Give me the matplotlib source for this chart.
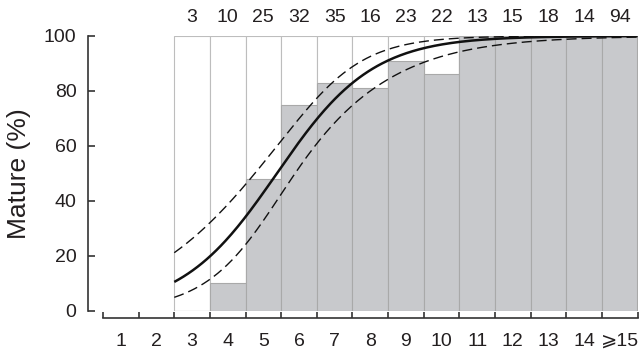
import numpy as np
import matplotlib
matplotlib.use("Agg")
import matplotlib.pyplot as plt

plt.rcParams['font.family'] = ['Liberation Sans', 'DejaVu Sans']

# age classes and observed data
ages = list(range(1, 16))
age_labels = ["1", "2", "3", "4", "5", "6", "7", "8", "9", "10", "11", "12", "13", "14", "\u2a7e15"]
sampled_ages = list(range(3, 16))
pct_mature = [0, 10, 48, 75, 83, 81, 91, 86, 100, 100, 100, 100, 100]
n_fish = [3, 10, 25, 32, 35, 16, 23, 22, 13, 15, 18, 14, 94]

# fitted logistic maturity ogive and its confidence band
a50 = 5.38
slope = 0.745
ci_min = 0.38
ci_grow = 0.21
ci_centre = 6.0

TXT = '#231f20'

fig = plt.figure(figsize=(6.4, 3.53), dpi=100)
ax = fig.add_axes([103 / 640, 1 - 310.7 / 353, 534.5 / 640, 274.7 / 353])

# white frames, then grey bars
ax.bar(sampled_ages, [100] * len(sampled_ages), width=1.0, color='white',
       edgecolor='#bdbdbd', linewidth=0.8, zorder=1)
ax.bar(sampled_ages, pct_mature, width=1.0, color='#c8c9cc',
       edgecolor='#a9a9a9', linewidth=0.8, zorder=2)

x = np.linspace(sampled_ages[0] - 0.5, sampled_ages[-1] + 0.5, 300)
lin = slope * (x - a50)
half = np.sqrt(ci_min ** 2 + (ci_grow * (x - ci_centre)) ** 2)
inv = lambda z: 100.0 / (1.0 + np.exp(-z))
ax.plot(x, inv(lin), color='#111111', lw=1.8, zorder=4, solid_capstyle='butt')
ax.plot(x, inv(lin + half), color='#111111', lw=1.0, ls=(0, (7.2, 3.6)), zorder=4)
ax.plot(x, inv(lin - half), color='#111111', lw=1.0, ls=(0, (7.2, 3.6)), zorder=4)

# sample sizes above the frames
for a, n in zip(sampled_ages, n_fish):
    ax.annotate(str(n), (a, 100), xytext=(0, 7), textcoords='offset points',
                ha='center', va='bottom', fontsize=14, color=TXT, annotation_clip=False)

ax.set_xlim(0.5, 15.5)
ax.set_ylim(0, 100)

for s in ['top', 'right']:
    ax.spines[s].set_visible(False)
ax.spines['left'].set_position(('outward', 11))
ax.spines['bottom'].set_position(('outward', 5.6))
ax.spines['left'].set_bounds(0, 100)
for s in ['left', 'bottom']:
    ax.spines[s].set_linewidth(1.2)
    ax.spines[s].set_color('#333333')

ax.set_yticks([0, 20, 40, 60, 80, 100])
ax.tick_params(axis='y', direction='in', length=5, width=1.2, color='#333333',
               labelsize=14, labelcolor=TXT, pad=8)
ax.set_xticks(np.arange(0.5, 16, 1.0))
ax.set_xticklabels([])
ax.set_xticks(ages, minor=True)
ax.set_xticklabels(age_labels, minor=True)
ax.tick_params(axis='x', which='major', direction='in', length=4.5, width=1.2, color='#333333')
ax.tick_params(axis='x', which='minor', length=0, labelsize=14, labelcolor=TXT, pad=10.5)

ax.set_ylabel('Mature (%)', fontsize=19, color=TXT)
ax.yaxis.set_label_coords(-0.135, 0.5)

fig.savefig('out.png', dpi=100)
